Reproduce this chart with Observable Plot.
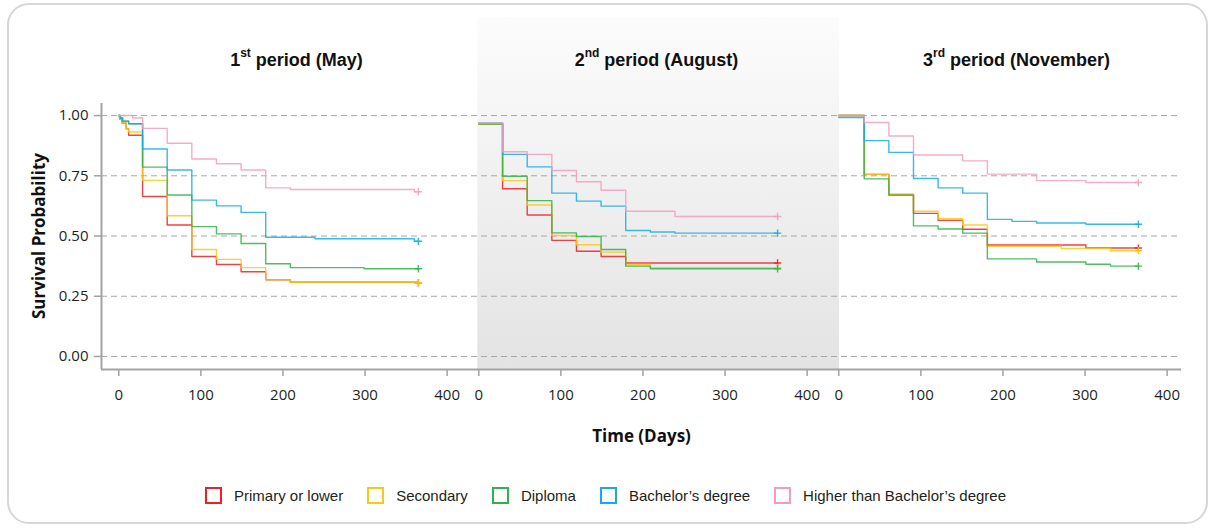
<!DOCTYPE html>
<html>
<head>
<meta charset="utf-8">
<script src="https://cdn.jsdelivr.net/npm/d3@7"></script>
<script src="https://cdn.jsdelivr.net/npm/@observablehq/plot@0.6"></script>
<style>
  html, body { margin: 0; padding: 0; background: #fff; }
  #wrap { position: relative; width: 1211px; height: 528px; overflow: hidden; }
  #frame { position: absolute; left: 7px; top: 3px; width: 1197px; height: 517px; border: 2.5px solid #d7d7d7; border-radius: 22px; box-sizing: content-box; }
  #chart { position: absolute; left: 0; top: 0; }
  #legend { position: absolute; left: 0; top: 487px; width: 1211px; display: flex; justify-content: center; align-items: center; font-family: "Liberation Sans", Arial, sans-serif; font-size: 15px; color: #231f20; }
  .item { display: flex; align-items: center; margin: 0 12px; }
  .sw { width: 13px; height: 13px; border: 2.5px solid; background: #fff; margin-right: 12px; }
</style>
</head>
<body>
<div id="wrap">
  <div id="frame"></div>
  <div id="chart"></div>
  <div id="legend"></div>
</div>
<script>
// ---- categories / labels ----
const periods = ["May", "August", "November"];
const periodNum = ["1", "2", "3"];
const periodSuffix = ["st", "nd", "rd"];
const groups = ["Primary or lower", "Secondary", "Diploma", "Bachelor’s degree", "Higher than Bachelor’s degree"];
const colors = ["#ee2026", "#fcc814", "#2fb34a", "#16abe6", "#f39cc1"];
const yTicks = [0, 0.25, 0.5, 0.75, 1];
const xTicks = [0, 100, 200, 300, 400];

// ---- 1st period (May): [day, survival] ----
const mayPrimary   = [[0,1],[1,0.986],[4,0.969],[9,0.945],[12,0.918],[29,0.664],[59,0.546],[89,0.415],[119,0.382],[149,0.352],[179,0.318],[209,0.308],[365,0.306]];
const maySecondary = [[0,1],[1,0.986],[4,0.969],[9,0.945],[12,0.932],[29,0.731],[59,0.584],[89,0.444],[119,0.403],[149,0.369],[179,0.318],[209,0.308],[365,0.306]];
const mayDiploma   = [[0,1],[2,0.99],[5,0.977],[12,0.966],[29,0.786],[59,0.670],[89,0.539],[119,0.509],[149,0.469],[179,0.385],[209,0.369],[299,0.364],[365,0.364]];
const mayBachelor  = [[0,1],[2,0.99],[4,0.977],[12,0.966],[29,0.861],[59,0.774],[89,0.649],[119,0.625],[149,0.598],[179,0.495],[239,0.489],[360,0.478],[365,0.478]];
const mayHigher    = [[0,1],[17,0.99],[29,0.947],[59,0.885],[89,0.820],[119,0.800],[149,0.774],[179,0.700],[209,0.693],[360,0.684],[365,0.684]];

// ---- 2nd period (August) ----
const augPrimary   = [[0,0.966],[29,0.696],[59,0.587],[89,0.482],[119,0.437],[149,0.415],[179,0.388],[364,0.388]];
const augSecondary = [[0,0.965],[29,0.730],[59,0.629],[89,0.502],[119,0.464],[149,0.433],[179,0.382],[209,0.369],[364,0.369]];
const augDiploma   = [[0,0.965],[29,0.748],[59,0.647],[89,0.513],[119,0.498],[149,0.444],[179,0.375],[209,0.364],[364,0.364]];
const augBachelor  = [[0,0.969],[29,0.839],[59,0.787],[89,0.678],[119,0.645],[149,0.624],[179,0.523],[209,0.517],[239,0.512],[364,0.512]];
const augHigher    = [[0,0.969],[29,0.850],[59,0.839],[89,0.772],[119,0.725],[149,0.690],[179,0.603],[239,0.581],[364,0.581]];

// ---- 3rd period (November) ----
const novPrimary   = [[0,1],[31,0.756],[61,0.673],[91,0.594],[121,0.565],[151,0.528],[181,0.463],[301,0.450],[365,0.450]];
const novSecondary = [[0,1],[31,0.756],[61,0.673],[91,0.603],[121,0.572],[151,0.546],[181,0.457],[271,0.448],[331,0.439],[365,0.439]];
const novDiploma   = [[0,1],[31,0.737],[61,0.669],[91,0.542],[121,0.529],[151,0.512],[181,0.405],[241,0.392],[301,0.383],[331,0.375],[365,0.375]];
const novBachelor  = [[0,0.992],[31,0.896],[61,0.847],[91,0.739],[121,0.700],[151,0.678],[181,0.569],[211,0.561],[241,0.554],[301,0.549],[365,0.549]];
const novHigher    = [[0,1],[31,0.971],[61,0.915],[91,0.836],[151,0.812],[181,0.757],[241,0.730],[301,0.722],[365,0.722]];

const curves = [
  [mayPrimary, maySecondary, mayDiploma, mayBachelor, mayHigher],
  [augPrimary, augSecondary, augDiploma, augBachelor, augHigher],
  [novPrimary, novSecondary, novDiploma, novBachelor, novHigher]
];

// ---- tidy table ----
const rows = [];
const ends = [];
curves.forEach((list, pi) => list.forEach((pts, gi) => {
  pts.forEach(([day, s]) => rows.push({period: periods[pi], group: groups[gi], key: pi + "-" + gi, order: gi, day, s}));
  const [d, s] = pts[pts.length - 1];
  ends.push({period: periods[pi], group: groups[gi], day: d, s});
}));

const xDomain = [-21.05, 417.5];
const yDomain = [-0.054, 1.407];
const axisGray = "#a3a3a3";

const svg = Plot.plot({
  width: 1211,
  height: 455,
  marginLeft: 100,
  marginRight: 29.5,
  marginTop: 17,
  marginBottom: 86,
  style: {fontFamily: "'Open Sans', sans-serif", fontSize: "15px", color: "#231f20", background: "transparent"},
  fx: {domain: periods, padding: 0, axis: null, label: null},
  x: {domain: xDomain, label: null},
  y: {domain: yDomain, label: null},
  color: {domain: groups, range: colors},
  marks: [
    Plot.rect([periods[1]], {fx: d => d, x1: () => -1.2, x2: () => 439.4, fill: "url(#midGrad)"}),
    Plot.gridY(yTicks, {stroke: "#a8a8a8", strokeOpacity: 1, strokeWidth: 1, strokeDasharray: "6,4"}),
    Plot.ruleY([yDomain[0]], {stroke: axisGray, strokeWidth: 2}),
    Plot.ruleX([periods[0]], {fx: d => d, x: () => xDomain[0], y1: () => yDomain[0], y2: () => 1.05, stroke: axisGray, strokeWidth: 2}),
    Plot.axisY(yTicks, {tickSize: 7, tickPadding: 6, stroke: axisGray, strokeWidth: 1.5, tickFormat: d3.format(".2f"), fontSize: 15, label: null}),
    Plot.axisX(xTicks, {tickSize: 7, tickPadding: 13, stroke: axisGray, strokeWidth: 1.5, fontSize: 15, label: null}),
    Plot.line(rows, {fx: "period", x: "day", y: "s", z: "key", stroke: "group", curve: "step-after", strokeWidth: 1.4, strokeOpacity: 0.85}),
    Plot.dot(ends, {fx: "period", x: "day", y: "s", stroke: "group", symbol: "plus", r: 2.5, strokeWidth: 1.4, strokeOpacity: 0.9}),
    Plot.text(periods, {fx: d => d, frameAnchor: "top", dy: 43, dx: 15, lineAnchor: "middle",
      text: (d, i) => `${periodNum[i]}${periodSuffix[i]} period (${d})`,
      fontFamily: "'Liberation Sans', Arial, sans-serif", fontSize: 18, fontWeight: "bold", fill: "#111"}),
    Plot.text([periods[0]], {fx: d => d, x: () => xDomain[0], y: () => 0.5, dx: -62, rotate: -90,
      text: () => "Survival Probability", fontSize: 17, fontWeight: "bold", fill: "#111"}),
    Plot.text([periods[1]], {fx: d => d, frameAnchor: "bottom", dy: 67, lineAnchor: "middle",
      text: () => "Time (Days)", fontSize: 17, fontWeight: "bold", fill: "#111"})
  ]
});

// gradient for middle panel
d3.select(svg).insert("defs", ":first-child").html(
  '<linearGradient id="midGrad" x1="0" y1="0" x2="0" y2="1">' +
  '<stop offset="0" stop-color="#fcfcfc"/><stop offset="1" stop-color="#e3e3e3"/></linearGradient>');

// superscripts in titles
d3.select(svg).selectAll("text").each(function() {
  const t = this.textContent;
  const m = t.match(/^(\d+)(st|nd|rd|th)( period .*)$/);
  if (!m) return;
  const sel = d3.select(this);
  sel.text(null);
  sel.append("tspan").text(m[1]);
  sel.append("tspan").attr("font-size", 12).attr("dy", -9).text(m[2]);
  sel.append("tspan").attr("dy", 9).text(m[3]);
});

document.getElementById("chart").appendChild(svg);

// legend
const legend = d3.select("#legend");
groups.forEach((g, i) => {
  const it = legend.append("div").attr("class", "item");
  it.append("div").attr("class", "sw").style("border-color", colors[i]);
  it.append("span").text(g);
});
</script>
</body>
</html>
